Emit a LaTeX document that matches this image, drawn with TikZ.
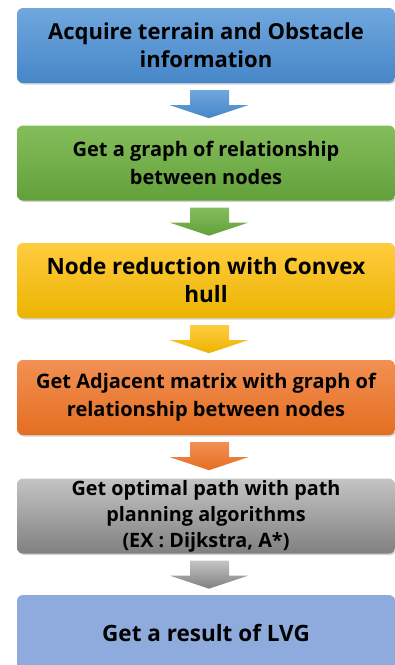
\documentclass[tikz,border=0pt]{standalone}
\usepackage{fontspec}
\setmainfont{Open Sans}
\usetikzlibrary{calc,shadows}
\definecolor{c1t}{RGB}{112,167,222}\definecolor{c1b}{RGB}{70,134,200}
\definecolor{c2t}{RGB}{132,190,92}\definecolor{c2b}{RGB}{98,160,58}
\definecolor{c3t}{RGB}{255,204,64}\definecolor{c3b}{RGB}{236,180,0}
\definecolor{c4t}{RGB}{242,144,84}\definecolor{c4b}{RGB}{228,110,32}
\definecolor{c5t}{RGB}{196,196,196}\definecolor{c5b}{RGB}{128,128,128}
\definecolor{c6}{RGB}{143,170,220}
\tikzset{
  stepbox/.style={rectangle, rounded corners=6pt, minimum width=378pt, minimum height=75pt,
     align=center, font=\bfseries, text=black, inner sep=1pt,
     drop shadow={shadow xshift=1.2pt, shadow yshift=-1.5pt, opacity=.35}}
}
\newcommand{\flowarr}[3]{%
  \shade[top color=#2, bottom color=#3]
    ($(#1.south)+(-16,7)$) -- ($(#1.south)+(23,7)$) -- ($(#1.south)+(23,22)$) --
    ($(#1.south)+(42,22)$) -- ($(#1.south)+(3,35)$) -- ($(#1.south)+(-36,22)$) --
    ($(#1.south)+(-16,22)$) -- cycle;}
\begin{document}
\begin{tikzpicture}[x=1pt,y=-1pt]
\useasboundingbox (0,0) rectangle (395,665);
\clip (0,0) rectangle (395,665);
\node[stepbox, top color=c1t, bottom color=c1b, font=\bfseries\fontsize{22}{28}\selectfont] (b1) at (206,45.5) {Acquire terrain and Obstacle\\information};
\node[stepbox, top color=c2t, bottom color=c2b, font=\bfseries\fontsize{20}{28}\selectfont] (b2) at (206,163) {Get a graph of relationship\\between nodes};
\node[stepbox, top color=c3t, bottom color=c3b, font=\bfseries\fontsize{22.5}{28}\selectfont] (b3) at (206,280.5) {Node reduction with Convex\\hull};
\node[stepbox, top color=c4t, bottom color=c4b, font=\bfseries\fontsize{20}{28}\selectfont] (b4) at (206,397.5) {Get Adjacent matrix with graph of\\relationship between nodes};
\node[stepbox, top color=c5t, bottom color=c5b, font=\bfseries\fontsize{19.8}{26}\selectfont] (b5) at (206,516) {Get optimal path with path\\planning algorithms\\(EX : Dijkstra, A*)};
\node[stepbox, fill=c6, minimum height=76pt, font=\bfseries\fontsize{22.5}{28}\selectfont] (b6) at (206,633) {Get a result of LVG};
\flowarr{b1}{c1t}{c1b}
\flowarr{b2}{c2t}{c2b}
\flowarr{b3}{c3t}{c3b}
\flowarr{b4}{c4t}{c4b}
\flowarr{b5}{c5t}{c5b}
\end{tikzpicture}
\end{document}
